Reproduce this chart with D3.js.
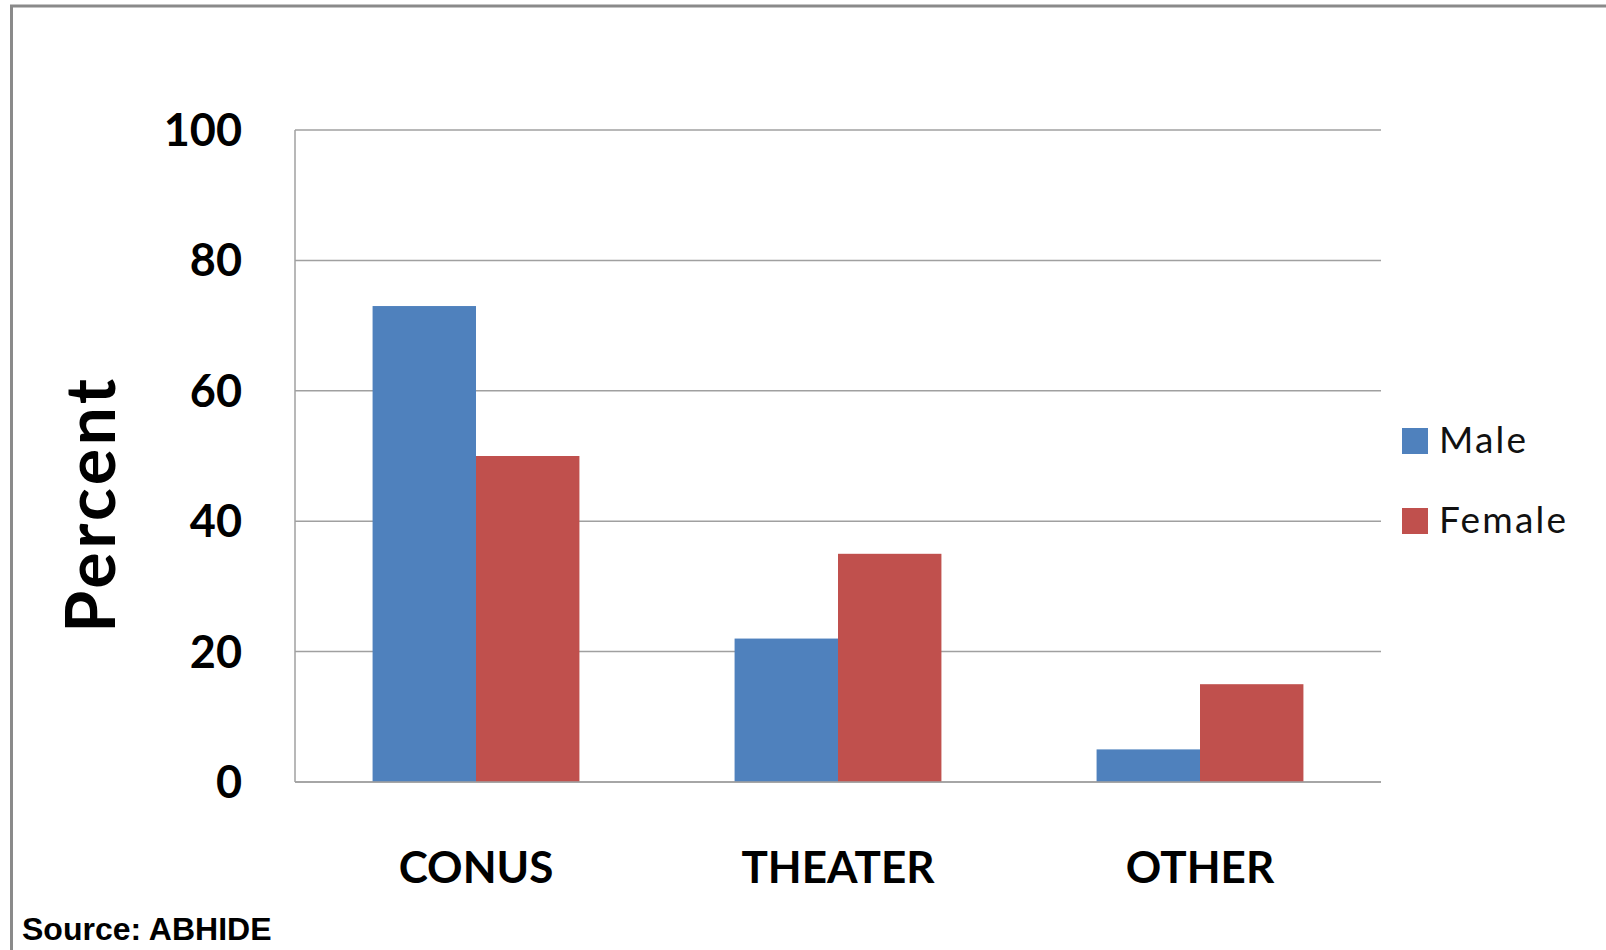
<!DOCTYPE html>
<html>
<head>
<meta charset="utf-8">
<script src="https://cdn.jsdelivr.net/npm/d3@7"></script>
<style>
  html, body { margin: 0; padding: 0; background: #fff; }
  svg { display: block; }
</style>
</head>
<body>
<section></section>
<script>
const categories = ["CONUS", "THEATER", "OTHER"];
const series = ["Male", "Female"];
const male = [73, 22, 5];
const female = [50, 35, 15];
const yTicks = [0, 20, 40, 60, 80, 100];
const colors = ["#4F81BD", "#C0504D"];

const width = 1606, height = 950;
const plot = { left: 295, right: 1381, top: 130, bottom: 782 };

const svg = d3.select("section")
    .append("svg")
    .attr("width", width)
    .attr("height", height);

// outer frame, cut off at the right and bottom
svg.append("rect")
    .attr("x", 11.5)
    .attr("y", 6)
    .attr("width", width + 20)
    .attr("height", height + 20)
    .attr("fill", "none")
    .attr("stroke", "#8a8a8a")
    .attr("stroke-width", 3);

const x = d3.scaleBand()
    .domain(categories)
    .range([plot.left, plot.right])
    .paddingInner(0.4286)
    .paddingOuter(0.2143);

const xInner = d3.scaleBand()
    .domain(series)
    .range([0, x.bandwidth()]);

const y = d3.scaleLinear()
    .domain([0, 100])
    .range([plot.bottom, plot.top]);

// gridlines
svg.append("g")
    .selectAll("line")
    .data(yTicks)
    .enter()
    .append("line")
    .attr("x1", plot.left)
    .attr("x2", plot.right)
    .attr("y1", d => y(d))
    .attr("y2", d => y(d))
    .attr("stroke", "#a0a0a0")
    .attr("stroke-width", 1.5);

// y axis line
svg.append("line")
    .attr("x1", plot.left)
    .attr("x2", plot.left)
    .attr("y1", plot.top)
    .attr("y2", plot.bottom)
    .attr("stroke", "#a0a0a0")
    .attr("stroke-width", 1.5);

// bars
const rows = categories.map((c, i) => ({ cat: c, values: [male[i], female[i]] }));

svg.append("g")
    .selectAll("g")
    .data(rows)
    .enter()
    .append("g")
    .attr("transform", d => "translate(" + x(d.cat) + ",0)")
    .selectAll("rect")
    .data(d => d.values.map((v, j) => ({ key: series[j], value: v, color: colors[j] })))
    .enter()
    .append("rect")
    .attr("x", d => xInner(d.key))
    .attr("width", xInner.bandwidth())
    .attr("y", d => y(d.value))
    .attr("height", d => y(0) - y(d.value))
    .attr("fill", d => d.color);

// redraw baseline over bars
svg.append("line")
    .attr("x1", plot.left)
    .attr("x2", plot.right)
    .attr("y1", y(0))
    .attr("y2", y(0))
    .attr("stroke", "#a0a0a0")
    .attr("stroke-width", 1.5);

// y tick labels
svg.append("g")
    .selectAll("text")
    .data(yTicks)
    .enter()
    .append("text")
    .attr("x", 242)
    .attr("y", d => y(d) + 16)
    .attr("text-anchor", "end")
    .style("font-family", "Lato")
    .style("font-weight", "bold")
    .style("font-size", "45px")
    .text(d => d);

// x labels
svg.append("g")
    .selectAll("text")
    .data(categories)
    .enter()
    .append("text")
    .attr("x", d => x(d) + x.bandwidth() / 2)
    .attr("y", 883)
    .attr("text-anchor", "middle")
    .style("font-family", "Lato")
    .style("font-weight", "bold")
    .style("font-size", "44px")
    .text(d => d);

// y axis title
svg.append("text")
    .attr("transform", "translate(115,504)rotate(-90)")
    .attr("text-anchor", "middle")
    .style("font-family", "Lato")
    .style("font-weight", "bold")
    .style("font-size", "68px")
    .style("letter-spacing", "3.5px")
    .text("Percent");

// legend
const legend = svg.append("g")
    .selectAll("g")
    .data(series)
    .enter()
    .append("g")
    .attr("transform", (d, i) => "translate(1402," + (428 + i * 80) + ")");

legend.append("rect")
    .attr("width", 26)
    .attr("height", 26)
    .attr("fill", (d, i) => colors[i]);

legend.append("text")
    .attr("x", 37)
    .attr("y", 25)
    .style("font-family", "Lato")
    .style("font-size", "37px")
    .style("letter-spacing", "2.2px")
    .style("fill", "#111")
    .text(d => d);

// source note
svg.append("text")
    .attr("x", 22)
    .attr("y", 940)
    .style("font-family", "Liberation Sans")
    .style("font-weight", "bold")
    .style("font-size", "32px")
    .text("Source: ABHIDE");
</script>
</body>
</html>
